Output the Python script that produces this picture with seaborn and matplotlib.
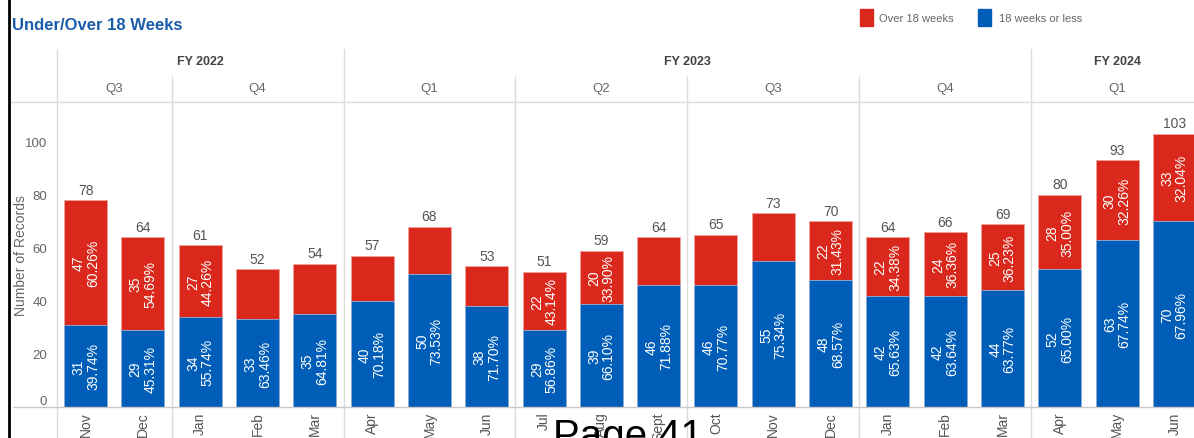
import matplotlib
matplotlib.use('Agg')  # no display
import matplotlib.pyplot as plt
import matplotlib.transforms as mtransforms
from matplotlib.lines import Line2D
from matplotlib.patches import Rectangle
import pandas as pd
import seaborn as sns

# data
periods = ['2021-11', '2021-12', '2022-01', '2022-02', '2022-03', '2022-04', '2022-05',
           '2022-06', '2022-07', '2022-08', '2022-09', '2022-10', '2022-11', '2022-12',
           '2023-01', '2023-02', '2023-03', '2023-04', '2023-05', '2023-06']
months = ['Nov', 'Dec', 'Jan', 'Feb', 'Mar', 'Apr', 'May', 'Jun', 'Jul', 'Aug',
          'Sept', 'Oct', 'Nov', 'Dec', 'Jan', 'Feb', 'Mar', 'Apr', 'May', 'Jun']
fiscal_years = ['FY 2022'] * 5 + ['FY 2023'] * 12 + ['FY 2024'] * 3
quarters = ['Q3', 'Q3', 'Q4', 'Q4', 'Q4', 'Q1', 'Q1', 'Q1', 'Q2', 'Q2',
            'Q2', 'Q3', 'Q3', 'Q3', 'Q4', 'Q4', 'Q4', 'Q1', 'Q1', 'Q1']
under_18 = [31, 29, 34, 33, 35, 40, 50, 38, 29, 39, 46, 46, 55, 48, 42, 42, 44, 52, 63, 70]
over_18 = [47, 35, 27, 19, 19, 17, 18, 15, 22, 20, 18, 19, 18, 22, 22, 24, 25, 28, 30, 33]
pct_under = ['39.74%', '45.31%', '55.74%', '63.46%', '64.81%', '70.18%', '73.53%',
             '71.70%', '56.86%', '66.10%', '71.88%', '70.77%', '75.34%', '68.57%',
             '65.63%', '63.64%', '63.77%', '65.00%', '67.74%', '67.96%']
# red segment labels that are shown on the chart ('' = hidden)
pct_over = ['60.26%', '54.69%', '44.26%', '', '', '', '', '', '43.14%', '33.90%',
            '', '', '', '31.43%', '34.38%', '36.36%', '36.23%', '35.00%', '32.26%', '32.04%']

RED = '#DA291C'
BLUE = '#005EB8'
GRID = '#dcdcdc'
TXT = '#666666'

df = pd.DataFrame({'period': periods, 'under': under_18, 'over': over_18})
df['total'] = df['under'] + df['over']

sns.set_theme(style='white')
plt.rcParams['font.family'] = ['Liberation Sans', 'DejaVu Sans']

W, H = 1194, 439
fig = plt.figure(figsize=(W / 100, H / 100), dpi=100)
ax = fig.add_axes([57 / W, 31 / H, 1146 / W, 305 / H])

sns.barplot(data=df, x='period', y='total', color=RED, saturation=1, width=0.75,
            edgecolor='#f0a29c', linewidth=0.6, ax=ax)
sns.barplot(data=df, x='period', y='under', color=BLUE, saturation=1, width=0.75,
            edgecolor='#8fb3dd', linewidth=0.6, ax=ax)

ax.set_xlim(-0.5, len(periods) - 0.5)
ax.set_ylim(0, 115)
ax.set_yticks(range(0, 101, 20))
for s in ax.spines.values():
    s.set_visible(False)

tot_bars = ax.containers[0]
und_bars = ax.containers[1]
for i, (bt, bu) in enumerate(zip(tot_bars, und_bars)):
    cx = bt.get_x() + bt.get_width() / 2
    tot = df['total'][i]
    und = df['under'][i]
    ax.text(cx, tot + 1.3, str(tot), ha='center', va='bottom', color='#555555', fontsize=10)
    ax.text(cx, und / 2, f"{und}\n{pct_under[i]}", rotation=90, ha='center', va='center',
            color='white', fontsize=10, linespacing=1.05)
    if pct_over[i]:
        ax.text(cx, und + df['over'][i] / 2, f"{df['over'][i]}\n{pct_over[i]}", rotation=90,
                ha='center', va='center', color='white', fontsize=10, linespacing=1.05)

# axes text
ax.set_xlabel('')
ax.set_ylabel('Number of Records', color=TXT, fontsize=10)
ax.yaxis.set_label_coords(-29 / 1146, 0.5)
ax.tick_params(axis='y', length=0, labelcolor=TXT, labelsize=9.5, pad=7)
for lbl in ax.get_yticklabels():
    if lbl.get_text() == '0':
        lbl.set_va('bottom')
ax.set_xticks(range(len(months)))
ax.set_xticklabels(months, rotation=90, va='top', ha='center', color='#555555', fontsize=10)
ax.tick_params(axis='x', which='major', length=0, pad=3)
ax.set_xticks([i + 0.5 for i in range(len(months) - 1)], minor=True)
ax.tick_params(axis='x', which='minor', length=5, color=GRID, width=1)

# header rows and separators
trans = mtransforms.blended_transform_factory(ax.transData, fig.transFigure)

def py(p):
    return 1 - p / H

def runs(keys):
    out = []
    start = 0
    for i in range(1, len(keys) + 1):
        if i == len(keys) or keys[i] != keys[start]:
            out.append((start, i - 1, keys[start]))
            start = i
    return out

fy_runs = runs(fiscal_years)
q_runs = runs(list(zip(fiscal_years, quarters)))

fig.add_artist(Line2D([-0.5, -0.5], [py(50), py(H)], transform=trans, color=GRID, lw=1))
for a, b, name in fy_runs:
    fig.text((a + b) / 2, py(62), name, transform=trans, ha='center', va='center',
             fontsize=9, fontweight='bold', color='#444444')
    if b < len(periods) - 1:
        fig.add_artist(Line2D([b + 0.5, b + 0.5], [py(50), py(H)], transform=trans, color=GRID, lw=1))
for a, b, key in q_runs:
    fig.text((a + b) / 2, py(89), key[1], transform=trans, ha='center', va='center',
             fontsize=9.5, color=TXT)
    if b < len(periods) - 1 and fiscal_years[b] == fiscal_years[b + 1]:
        fig.add_artist(Line2D([b + 0.5, b + 0.5], [py(77), py(H)], transform=trans, color=GRID, lw=1))

fig.add_artist(Line2D([10 / W, 1], [py(103), py(103)], transform=fig.transFigure, color=GRID, lw=1))
fig.add_artist(Line2D([13 / W, 1], [py(408), py(408)], transform=fig.transFigure, color='#c8c8c8', lw=1))
fig.add_artist(Line2D([8.5 / W, 8.5 / W], [0, 1], transform=fig.transFigure, color='black', lw=2))

# title and legend
fig.text(12 / W, py(25), 'Under/Over 18 Weeks', ha='left', va='center', fontsize=12,
         fontweight='bold', color='#1B5CAB')
fig.add_artist(Rectangle((860 / W, py(27)), 13 / W, 17 / H, transform=fig.transFigure, color=RED))
fig.text(879 / W, py(19), 'Over 18 weeks', ha='left', va='center', fontsize=8, color=TXT)
fig.add_artist(Rectangle((978 / W, py(27)), 13 / W, 17 / H, transform=fig.transFigure, color=BLUE))
fig.text(999 / W, py(19), '18 weeks or less', ha='left', va='center', fontsize=8, color=TXT)

# page footer bleeding in from the source document
fig.text(553 / W, py(448), 'Page 41', ha='left', va='baseline', fontsize=29, color='black')

fig.savefig('out.png', dpi=100)
